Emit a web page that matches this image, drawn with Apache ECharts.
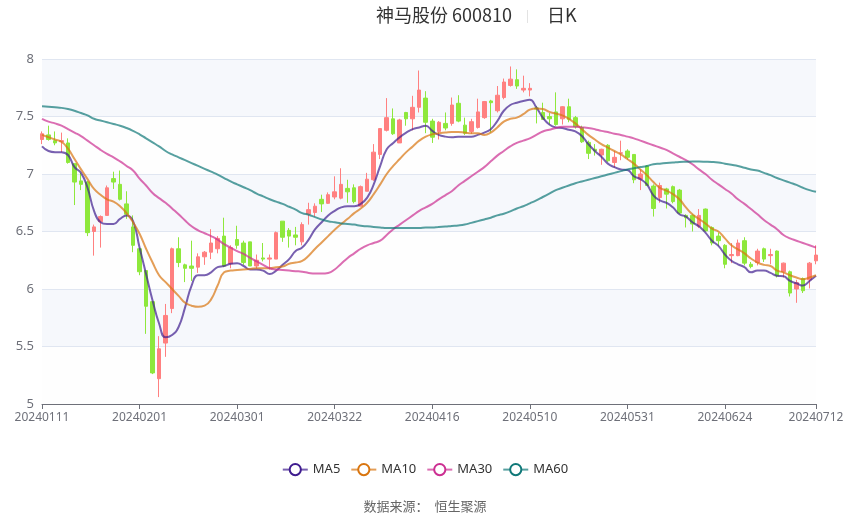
<!DOCTYPE html>
<html>
<head>
<meta charset="utf-8">
<script src="https://cdn.jsdelivr.net/npm/echarts@6/dist/echarts.min.js"></script>
<style>
html,body{margin:0;padding:0;background:#fff;}
#chart{width:850px;height:517px;}
</style>
</head>
<body>
<div id="chart"></div>
<script>
var dates = [
'20240111','20240112','20240115','20240116','20240117','20240118','20240119','20240122','20240123','20240124','20240125','20240126','20240129','20240130','20240131',
'20240201','20240202','20240205','20240206','20240207','20240208','20240219','20240220','20240221','20240222','20240223','20240226','20240227','20240228','20240229',
'20240301','20240304','20240305','20240306','20240307','20240308','20240311','20240312','20240313','20240314','20240315','20240318','20240319','20240320','20240321','20240322','20240325','20240326','20240327','20240328','20240329',
'20240401','20240402','20240403','20240408','20240409','20240410','20240411','20240412','20240415','20240416','20240417','20240418','20240419','20240422','20240423','20240424','20240425','20240426','20240429','20240430',
'20240506','20240507','20240508','20240509','20240510','20240513','20240514','20240515','20240516','20240517','20240520','20240521','20240522','20240523','20240524','20240527','20240528','20240529','20240530','20240531',
'20240603','20240604','20240605','20240606','20240607','20240611','20240612','20240613','20240614','20240617','20240618','20240619','20240620','20240621','20240624','20240625','20240626','20240627','20240628',
'20240701','20240702','20240703','20240704','20240705','20240708','20240709','20240710','20240711','20240712'
];
var opens = [7.30,7.34,7.29,7.28,7.27,7.09,6.94,6.93,6.50,6.585,6.64,6.96,6.91,6.74,6.54,6.35,6.16,5.89,5.22,5.53,
5.83,6.35,6.21,6.20,6.19,6.28,6.32,6.35,6.46,6.22,6.43,6.40,6.41,6.20,6.27,6.26,6.26,6.59,6.51,6.47,
6.41,6.65,6.665,6.78,6.745,6.80,6.79,6.875,6.88,6.72,6.85,6.95,7.17,7.38,7.48,7.27,7.535,7.48,7.58,7.66,
7.46,7.37,7.44,7.44,7.615,7.425,7.37,7.405,7.49,7.635,7.55,7.665,7.77,7.82,7.73,7.73,7.575,7.535,7.50,7.54,
7.48,7.585,7.49,7.405,7.275,7.215,7.165,7.25,7.10,7.18,7.20,7.17,6.955,7.07,6.895,6.795,6.87,6.89,6.86,6.64,
6.64,6.545,6.695,6.535,6.46,6.38,6.29,6.29,6.42,6.215,6.23,6.35,6.29,6.33,6.15,6.15,6.00,6.09,6.08,6.245];
var closes = [7.35,7.30,7.27,7.29,7.10,6.93,6.91,6.49,6.54,6.63,6.88,6.93,6.78,6.65,6.38,6.15,5.85,5.27,5.48,5.77,
6.35,6.23,6.18,6.18,6.28,6.32,6.40,6.44,6.20,6.36,6.38,6.23,6.20,6.25,6.26,6.27,6.49,6.45,6.46,6.45,
6.56,6.69,6.72,6.74,6.82,6.845,6.91,6.845,6.76,6.89,6.955,7.19,7.395,7.49,7.35,7.47,7.48,7.58,7.73,7.45,
7.32,7.45,7.40,7.60,7.46,7.355,7.455,7.54,7.63,7.62,7.685,7.80,7.825,7.765,7.745,7.745,7.565,7.475,7.48,7.43,
7.585,7.475,7.41,7.28,7.18,7.20,7.215,7.115,7.145,7.185,7.145,6.95,7.00,6.90,6.70,6.90,6.825,6.76,6.66,6.62,
6.565,6.64,6.505,6.40,6.42,6.215,6.30,6.40,6.225,6.195,6.33,6.26,6.30,6.115,6.225,5.965,6.055,5.985,6.225,6.295];
var lows = [7.26,7.29,7.25,7.19,7.09,6.73,6.86,6.46,6.29,6.36,6.64,6.87,6.77,6.61,6.32,6.12,5.61,5.26,5.06,5.41,
5.79,6.19,6.06,6.07,6.14,6.21,6.26,6.31,6.19,6.18,6.35,6.21,6.20,6.18,6.24,6.17,6.26,6.41,6.36,6.38,
6.38,6.56,6.63,6.67,6.74,6.78,6.78,6.75,6.745,6.72,6.85,6.94,7.13,7.37,7.34,7.27,7.42,7.38,7.535,7.355,
7.27,7.30,7.38,7.42,7.45,7.34,7.35,7.395,7.48,7.36,7.535,7.65,7.76,7.74,7.71,7.675,7.44,7.47,7.43,7.42,
7.43,7.45,7.395,7.27,7.13,7.16,7.08,7.105,7.055,7.12,7.125,6.92,6.86,6.895,6.63,6.75,6.70,6.745,6.65,6.535,
6.50,6.53,6.50,6.38,6.375,6.18,6.225,6.285,6.205,6.18,6.205,6.235,6.215,6.10,6.10,5.935,5.88,5.965,6.005,6.215];
var highs = [7.37,7.42,7.37,7.36,7.31,7.09,7.01,6.94,6.56,6.64,6.90,7.02,7.03,6.85,6.64,6.36,6.16,5.89,5.59,5.87,
6.36,6.45,6.22,6.42,6.31,6.33,6.52,6.46,6.62,6.38,6.55,6.42,6.41,6.30,6.40,6.30,6.50,6.59,6.53,6.54,
6.58,6.75,6.745,6.82,6.84,6.98,7.05,6.95,6.91,6.90,7.01,7.26,7.40,7.66,7.57,7.48,7.54,7.68,7.90,7.72,
7.48,7.46,7.535,7.665,7.685,7.49,7.48,7.655,7.635,7.645,7.765,7.83,7.935,7.91,7.855,7.79,7.59,7.62,7.53,7.71,
7.59,7.655,7.505,7.42,7.29,7.26,7.22,7.26,7.20,7.29,7.215,7.17,7.04,7.075,6.91,6.925,6.88,6.90,6.87,6.65,
6.65,6.695,6.70,6.545,6.49,6.39,6.40,6.43,6.45,6.235,6.35,6.36,6.35,6.335,6.23,6.16,6.08,6.10,6.235,6.38];
var ma5 = [7.24,7.20,7.19,7.19,7.165,7.06,7.01,6.88,6.68,6.58,6.565,6.565,6.61,6.64,6.59,6.36,6.13,5.90,5.70,5.58,
5.60,5.67,5.84,6.03,6.12,6.12,6.145,6.19,6.20,6.22,6.225,6.20,6.17,6.17,6.16,6.13,6.16,6.21,6.26,6.33,
6.36,6.43,6.52,6.58,6.64,6.68,6.71,6.72,6.72,6.74,6.795,6.91,7.07,7.215,7.27,7.32,7.36,7.39,7.405,7.42,
7.375,7.34,7.325,7.32,7.325,7.325,7.325,7.34,7.36,7.39,7.46,7.55,7.60,7.62,7.635,7.645,7.58,7.49,7.43,7.405,
7.40,7.385,7.37,7.33,7.26,7.20,7.15,7.09,7.06,7.04,7.035,6.98,6.955,6.91,6.815,6.77,6.75,6.71,6.65,6.63,
6.58,6.545,6.49,6.42,6.375,6.30,6.245,6.215,6.19,6.145,6.16,6.16,6.14,6.115,6.11,6.07,6.05,6.03,6.07,6.115];
var ma10 = [7.34,7.32,7.30,7.28,7.22,7.13,7.04,6.955,6.87,6.82,6.78,6.76,6.72,6.66,6.58,6.48,6.35,6.23,6.12,6.06,
6.00,5.94,5.88,5.855,5.845,5.855,5.91,6.03,6.145,6.16,6.165,6.17,6.175,6.18,6.18,6.18,6.19,6.195,6.22,6.23,
6.245,6.29,6.35,6.405,6.46,6.515,6.565,6.61,6.66,6.70,6.75,6.825,6.91,7.00,7.07,7.13,7.19,7.24,7.29,7.325,
7.345,7.355,7.36,7.365,7.365,7.36,7.355,7.355,7.34,7.36,7.405,7.455,7.48,7.49,7.52,7.56,7.57,7.565,7.54,7.525,
7.51,7.48,7.44,7.39,7.34,7.30,7.26,7.23,7.20,7.17,7.13,7.09,7.04,6.99,6.93,6.88,6.855,6.825,6.78,6.71,
6.65,6.61,6.57,6.525,6.50,6.44,6.38,6.345,6.31,6.265,6.23,6.21,6.20,6.16,6.145,6.12,6.10,6.085,6.10,6.12];
var ma30 = [7.48,7.455,7.44,7.42,7.39,7.36,7.33,7.29,7.25,7.21,7.175,7.145,7.11,7.07,7.03,6.96,6.90,6.835,6.79,6.75,
6.70,6.65,6.595,6.545,6.51,6.485,6.46,6.43,6.39,6.36,6.33,6.305,6.27,6.24,6.21,6.18,6.17,6.165,6.16,6.155,
6.15,6.14,6.135,6.135,6.14,6.17,6.22,6.27,6.31,6.35,6.38,6.40,6.42,6.47,6.52,6.56,6.60,6.64,6.68,6.71,
6.74,6.78,6.815,6.85,6.90,6.94,6.98,7.02,7.06,7.11,7.16,7.20,7.24,7.27,7.29,7.31,7.34,7.37,7.385,7.40,
7.41,7.41,7.41,7.405,7.40,7.39,7.375,7.365,7.35,7.34,7.325,7.31,7.29,7.27,7.25,7.23,7.21,7.18,7.15,7.12,
7.085,7.04,7.00,6.95,6.91,6.87,6.83,6.78,6.74,6.695,6.65,6.60,6.56,6.52,6.47,6.44,6.42,6.40,6.38,6.36];
var ma60 = [7.59,7.585,7.58,7.575,7.565,7.55,7.53,7.51,7.48,7.465,7.45,7.435,7.42,7.40,7.375,7.345,7.31,7.275,7.24,7.20,
7.17,7.145,7.12,7.095,7.07,7.045,7.02,6.995,6.965,6.935,6.91,6.885,6.86,6.83,6.805,6.78,6.76,6.74,6.715,6.69,
6.66,6.645,6.625,6.605,6.59,6.58,6.57,6.565,6.56,6.55,6.545,6.54,6.535,6.53,6.53,6.53,6.53,6.53,6.53,6.535,
6.535,6.54,6.543,6.548,6.552,6.56,6.575,6.59,6.605,6.62,6.64,6.655,6.675,6.70,6.72,6.745,6.77,6.80,6.83,6.86,
6.88,6.90,6.92,6.935,6.95,6.965,6.98,6.995,7.01,7.025,7.04,7.05,7.06,7.07,7.085,7.09,7.095,7.10,7.105,7.107,
7.108,7.108,7.107,7.105,7.10,7.09,7.08,7.07,7.055,7.04,7.03,7.01,6.99,6.965,6.945,6.925,6.905,6.88,6.86,6.845];
var yTicks = {min: 5, max: 8, interval: 0.5};

var kData = opens.map(function (o, i) { return [o, closes[i], lows[i], highs[i]]; });
var FONT = '"Noto Sans", "Noto Sans CJK SC", sans-serif';
function showLabel(i) { return i % 15 === 0 || i === dates.length - 1; }
function maSeries(name, data, color) {
  return {
    name: name, type: 'line', data: data, smooth: true, showSymbol: false,
    symbol: 'emptyCircle', symbolSize: 8,
    itemStyle: {color: color},
    lineStyle: {width: 2, color: color, opacity: 0.7},
    z: 3
  };
}
var chart = echarts.init(document.getElementById('chart'));
chart.setOption({
  animation: false,
  textStyle: {fontFamily: FONT},
  graphic: [
    {type: 'text', left: 376, top: 6, style: {text: '神马股份 600810', fill: '#333', font: '18px "Noto Sans CJK SC", sans-serif'}},
    {type: 'rect', left: 527, top: 10, shape: {width: 1, height: 13}, style: {fill: '#e3e3e3'}},
    {type: 'text', left: 547, top: 6, style: {text: '日K', fill: '#333', font: '18px "Noto Sans CJK SC", sans-serif'}},
    {type: 'text', left: 'center', top: 500, style: {text: '数据来源：  恒生聚源', fill: '#666', font: '13px "Noto Sans CJK SC", sans-serif'}}
  ],
  legend: {
    left: 'center', top: 458, itemWidth: 25, itemHeight: 14, itemGap: 10,
    textStyle: {color: '#333', fontSize: 13, fontFamily: FONT},
    data: ['MA5', 'MA10', 'MA30', 'MA60']
  },
  grid: {left: 42, right: 34, top: 59, bottom: 113},
  xAxis: {
    type: 'category', data: dates, boundaryGap: false,
    axisLine: {lineStyle: {color: '#6E7079'}},
    axisTick: {interval: function (i) { return showLabel(i); }},
    axisLabel: {interval: function (i) { return showLabel(i); }, color: '#6E7079', fontSize: 12, margin: 8},
    splitLine: {show: false}
  },
  yAxis: {
    type: 'value', min: yTicks.min, max: yTicks.max, interval: yTicks.interval,
    axisLine: {show: false}, axisTick: {show: false},
    axisLabel: {color: '#6E7079', fontSize: 13, margin: 8},
    splitLine: {lineStyle: {color: '#E0E6F1'}},
    splitArea: {show: true, areaStyle: {color: ['rgba(250,250,250,0.2)', 'rgba(210,219,238,0.2)']}}
  },
  series: [
    {
      name: 'K', type: 'candlestick', data: kData, barWidth: 4, clip: false,
      itemStyle: {color: '#ff8080', color0: '#8ee83c', borderColor: '#ff8080', borderColor0: '#8ee83c', borderWidth: 1},
      z: 2
    },
    maSeries('MA5', ma5, '#3f1c8f'),
    maSeries('MA10', ma10, '#d9750f'),
    maSeries('MA30', ma30, '#cc2f92'),
    maSeries('MA60', ma60, '#0f7878')
  ]
});
</script>
</body>
</html>
